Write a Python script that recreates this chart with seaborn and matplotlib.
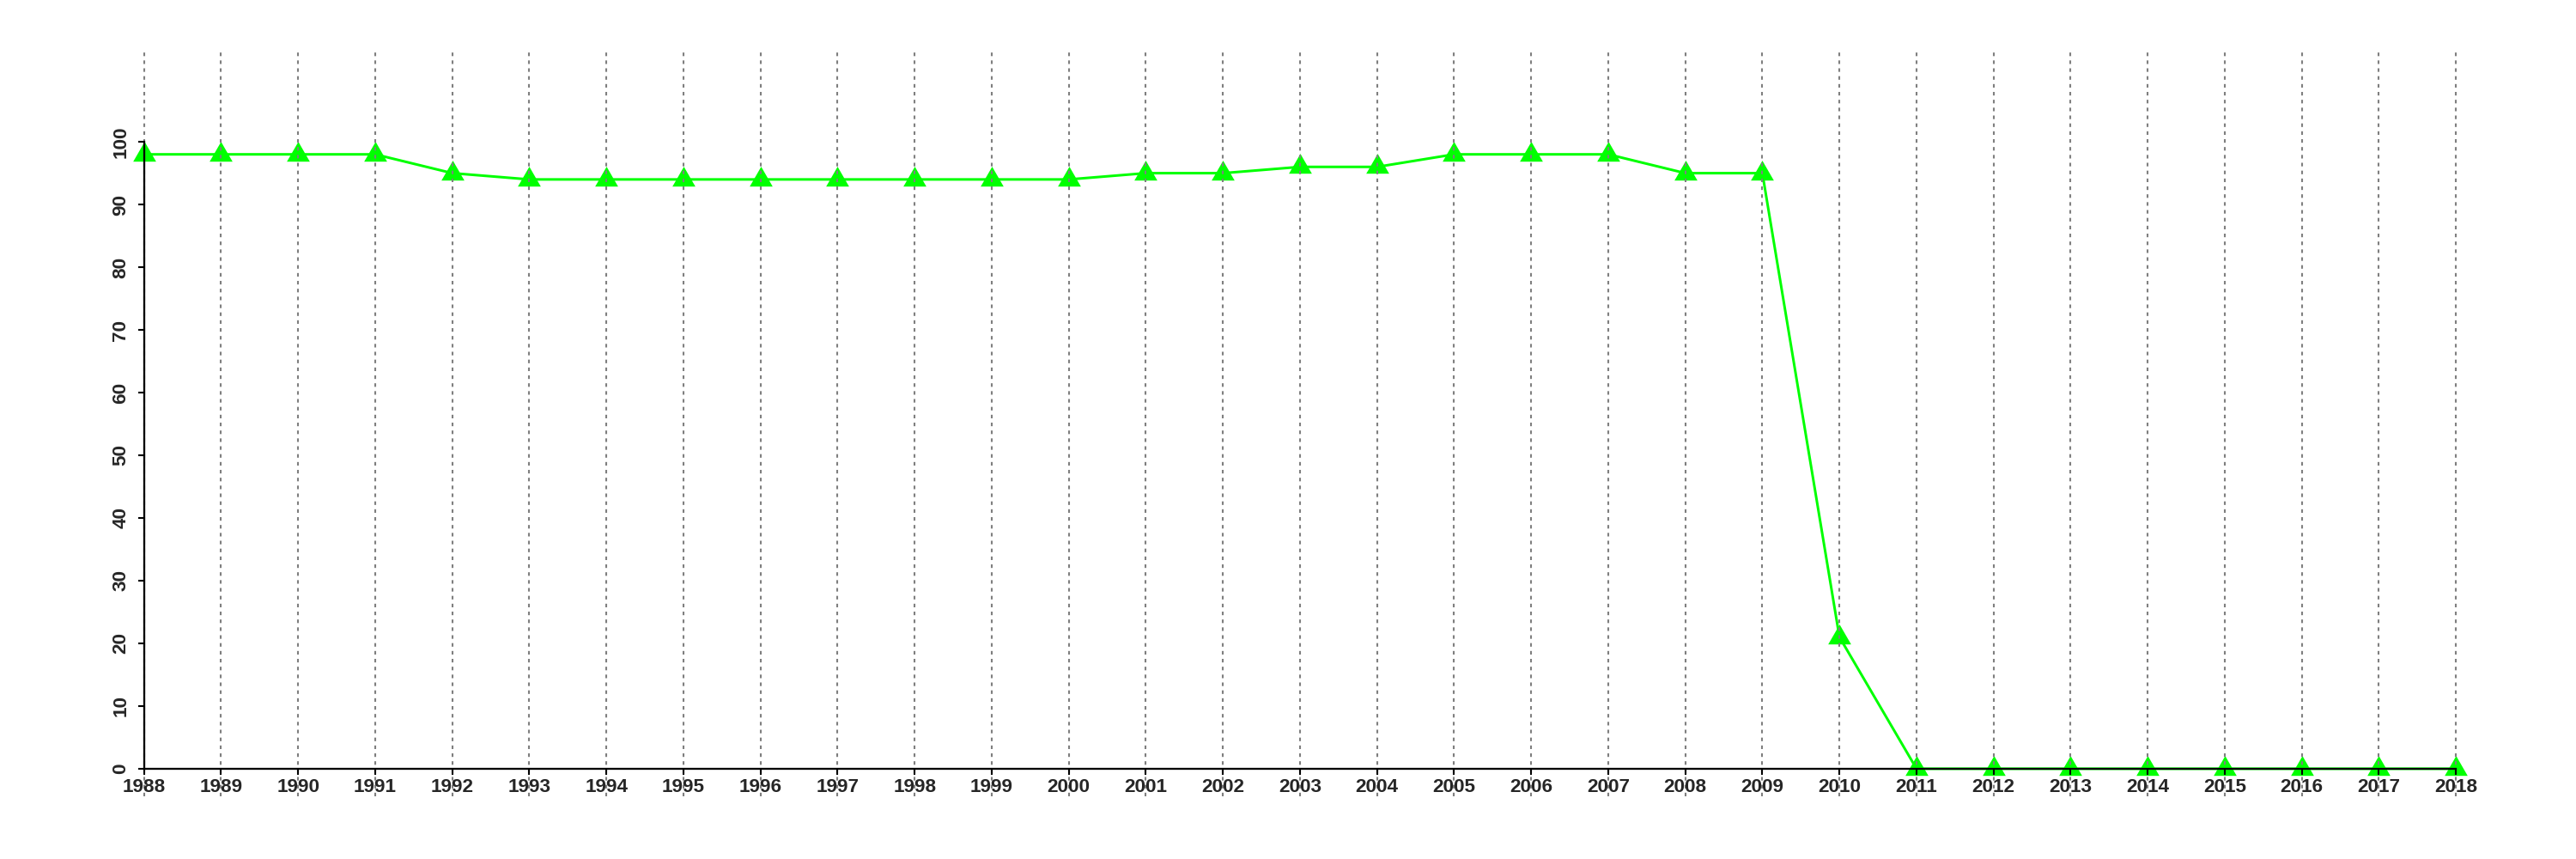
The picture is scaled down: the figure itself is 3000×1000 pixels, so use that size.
import matplotlib
matplotlib.use("Agg")
import matplotlib.pyplot as plt
import seaborn as sns
import pandas as pd

# values
years = list(range(1988, 2019))
share = [98, 98, 98, 98, 95, 94, 94, 94, 94, 94, 94, 94, 94, 95, 95, 96, 96,
         98, 98, 98, 95, 95, 21, 0, 0, 0, 0, 0, 0, 0, 0]
y_ticks = list(range(0, 101, 10))

df = pd.DataFrame({"year": years, "share": share})

sns.set_style("white")
plt.rcParams["font.family"] = ["Liberation Sans", "DejaVu Sans"]
plt.rcParams["font.weight"] = "bold"

fig = plt.figure(figsize=(10, 10 / 3), dpi=300)
ax = fig.add_axes([0.02, 0.073, 0.9693, 0.867])

# R-like filled triangle (centred on its centroid)
tri = [(0, 1), (-0.866, -0.5), (0.866, -0.5)]
sns.lineplot(data=df, x="year", y="share", color="#00ff00", linewidth=0.72,
             marker=tri, markersize=7.4, markeredgewidth=0,
             markerfacecolor="#00ff00", ax=ax)

# R default axis extension (4%)
x0, x1 = min(years), max(years)
pad_x = (x1 - x0) * 0.04
ax.set_xlim(x0 - pad_x, x1 + pad_x)
ax.set_ylim(-110 * 0.04, 110 * 1.04)

ax.set_xticks(years)
ax.set_xticklabels([str(y) for y in years])
ax.set_yticks(y_ticks)
ax.set_yticklabels([str(v) for v in y_ticks])

ax.grid(axis="x", color="#7f7f7f", linewidth=0.5, linestyle=(0, (2, 2.4)))
ax.grid(axis="y", visible=False)
ax.set_axisbelow(False)

for s in ["top", "right"]:
    ax.spines[s].set_visible(False)
ax.spines["left"].set_position(("data", x0))
ax.spines["bottom"].set_position(("data", 0))
ax.spines["left"].set_bounds(0, 100)
ax.spines["bottom"].set_bounds(x0, x1)
for s in ["left", "bottom"]:
    ax.spines[s].set_linewidth(0.55)
    ax.spines[s].set_color("black")
    ax.spines[s].set_zorder(3)

ax.tick_params(axis="both", direction="out", length=1.7, width=0.5,
               color="black", labelsize=5.4)
ax.tick_params(axis="x", bottom=True, pad=1.0)
ax.tick_params(axis="y", left=True, pad=2.2, labelrotation=90)
for lbl in ax.get_yticklabels():
    lbl.set_verticalalignment("center")
for lbl in ax.get_xticklabels() + ax.get_yticklabels():
    lbl.set_fontweight("bold")

ax.set_xlabel("")
ax.set_ylabel("")
if ax.get_legend() is not None:
    ax.get_legend().remove()

fig.savefig("out.png", dpi=300, facecolor="white")
